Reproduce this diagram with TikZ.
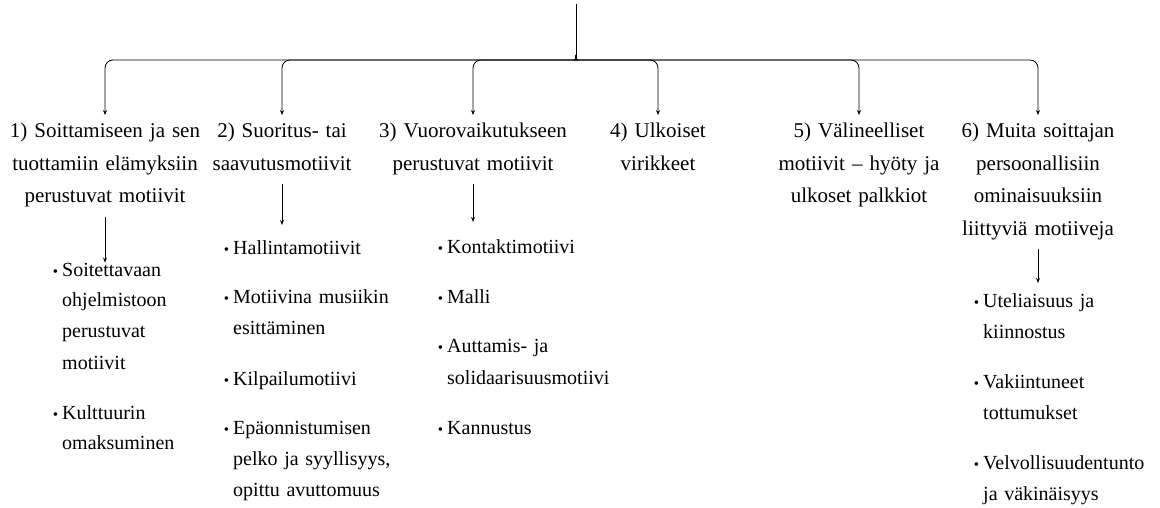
\documentclass[tikz,border=0pt]{standalone}
\usepackage{fontspec}
\setmainfont{Liberation Serif}
\usetikzlibrary{arrows.meta, calc}

% one bullet item of a list
\newcommand{\itm}[1]{\noindent\llap{{\fontsize{15}{15}\selectfont\textbullet}\hspace{4pt}}#1\par\vspace{19pt}}

\tikzset{
  motive/.style={text width=210pt, align=center, inner sep=0pt, anchor=base,
    font=\fontsize{21}{32.5}\selectfont,
    execute at begin node={\strut}, execute at end node={\strut}},
  itemlist/.style={text width=200pt, align=left, inner sep=0pt, anchor=base west,
    font=\fontsize{20}{31}\selectfont},
  brace/.style={line width=0.9pt},
  drop/.style={-{Stealth[length=5pt,width=4pt]}, line width=0.8pt, rounded corners=8pt},
}

\begin{document}
\begin{tikzpicture}[x=1pt, y=-1pt]
  \useasboundingbox (0,0) rectangle (1160,508);

  % Motive groups
  \node[motive] (h1) at (105,138) {1) Soittamiseen ja sen\\tuottamiin elämyksiin\\perustuvat motiivit};
  \node[motive] (h2) at (282,138) {2) Suoritus- tai\\saavutusmotiivit};
  \node[motive] (h3) at (473,138) {3) Vuorovaikutukseen\\perustuvat motiivit};
  \node[motive] (h4) at (658,138) {4) Ulkoiset\\virikkeet};
  \node[motive] (h5) at (859,138) {5) Välineelliset\\motiivit – hyöty ja\\ulkoset palkkiot};
  \node[motive] (h6) at (1038,138) {6) Muita soittajan\\persoonallisiin\\ominaisuuksiin\\liittyviä motiiveja};

  % Bullet lists
  \node[itemlist] (l1) at (62,276) {\itm{Soitettavaan\\ohjelmistoon\\perustuvat\\motiivit}\itm{Kulttuurin\\omaksuminen}};
  \node[itemlist] (l2) at (233,254) {\itm{Hallintamotiivit}\itm{Motiivina musiikin\\esittäminen}\itm{Kilpailumotiivi}\itm{Epäonnistumisen\\pelko ja syyllisyys,\\opittu avuttomuus}};
  \node[itemlist] (l3) at (447,253) {\itm{Kontaktimotiivi}\itm{Malli}\itm{Auttamis- ja\\solidaarisuusmotiivi}\itm{Kannustus}};
  \node[itemlist] (l6) at (983,307) {\itm{Uteliaisuus ja\\kiinnostus}\itm{Vakiintuneet\\tottumukset}\itm{Velvollisuudentunto\\ja väkinäisyys}};

  % Brace
  \coordinate (stem) at (576,4);
  \coordinate (tip) at (576,55);
  \draw[brace] (stem) -- (tip);
  \foreach \h in {h1,h2,h3}
    \draw[drop] (tip) .. controls (576,59) and (574,60) .. (569,60) -| (\h.north);
  \foreach \h in {h4,h5,h6}
    \draw[drop] (tip) .. controls (576,59) and (578,60) .. (583,60) -| (\h.north);

  % From groups to lists
  \draw[drop, shorten <=4pt] (h1.south) -- (h1.south |- l1.north);
  \draw[drop, shorten <=4pt, shorten >=15pt] (h2.south) -- (h2.south |- l2.north);
  \draw[drop, shorten <=4pt, shorten >=17pt] (h3.south) -- (h3.south |- l3.north);
  \draw[drop, shorten <=4pt, shorten >=10pt] (h6.south) -- (h6.south |- l6.north);
\end{tikzpicture}
\end{document}
